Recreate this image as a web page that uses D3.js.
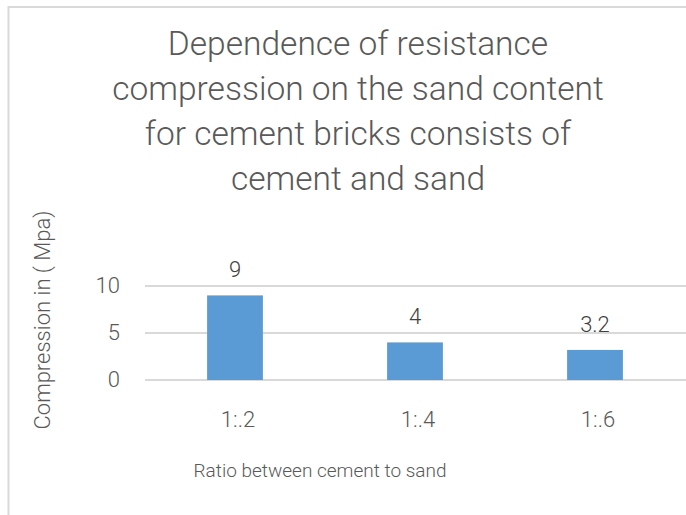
<!DOCTYPE html>
<html>
<head>
<meta charset="utf-8">
<script src="https://cdn.jsdelivr.net/npm/d3@7"></script>
<style>
  body { margin: 0; background: #fff; }
  svg text { font-family: Roboto, "DejaVu Sans Condensed", sans-serif; font-weight: 300; }
</style>
</head>
<body>
<svg id="chart"></svg>
<script>
var width = 686;
var height = 515;

// Chart data
var categories = ["1:.2", "1:.4", "1:.6"];
var values = [9, 4, 3.2];
var yTicks = [0, 5, 10];
var titleLines = [
    "Dependence of resistance",
    "compression on the sand content",
    "for cement bricks consists of",
    "cement and sand"
];
var xTitle = "Ratio between cement to sand";
var yTitle = "Compression in ( Mpa)";

var plotLeft = 145, plotRight = 685, plotTop = 286, plotBottom = 380;

var svg = d3.select("#chart")
    .attr("width", width)
    .attr("height", height);

// Chart frame (runs off the right and bottom edge)
svg.append("rect")
    .attr("x", 8.5)
    .attr("y", 7)
    .attr("width", 800)
    .attr("height", 600)
    .attr("fill", "#fff")
    .attr("stroke", "#d9d9d9")
    .attr("stroke-width", 2);

var x = d3.scaleBand()
    .domain(categories)
    .range([plotLeft, plotRight])
    .paddingInner(0.69)
    .paddingOuter(0.345);

var y = d3.scaleLinear()
    .domain([0, 10])
    .range([plotBottom, plotTop]);

// Gridlines
svg.append("g")
    .selectAll("line")
    .data(yTicks)
    .enter().append("line")
    .attr("x1", plotLeft)
    .attr("x2", width + 10)
    .attr("y1", function (d) { return y(d); })
    .attr("y2", function (d) { return y(d); })
    .attr("stroke", "#d9d9d9")
    .attr("stroke-width", 2);

// Y tick labels
svg.append("g")
    .selectAll("text")
    .data(yTicks)
    .enter().append("text")
    .attr("x", 120)
    .attr("y", function (d) { return y(d); })
    .attr("dy", "0.3em")
    .attr("text-anchor", "end")
    .attr("font-size", "22px")
    .attr("fill", "#595959")
    .text(function (d) { return d; });

// Bars
svg.append("g")
    .selectAll("rect")
    .data(values)
    .enter().append("rect")
    .attr("x", function (d, i) { return x(categories[i]); })
    .attr("y", function (d) { return y(d); })
    .attr("width", x.bandwidth())
    .attr("height", function (d) { return plotBottom - y(d); })
    .attr("fill", "#5b9bd5");

// Data labels
svg.append("g")
    .selectAll("text")
    .data(values)
    .enter().append("text")
    .attr("x", function (d, i) { return x(categories[i]) + x.bandwidth() / 2; })
    .attr("y", function (d) { return y(d) - 18; })
    .attr("text-anchor", "middle")
    .attr("font-size", "22px")
    .attr("fill", "#404040")
    .text(function (d) { return d; });

// Category labels
svg.append("g")
    .selectAll("text")
    .data(categories)
    .enter().append("text")
    .attr("x", function (d) { return x(d) + x.bandwidth() / 2 + 3; })
    .attr("y", 427)
    .attr("text-anchor", "middle")
    .attr("font-size", "22px")
    .attr("fill", "#595959")
    .text(function (d) { return d; });

// Title
svg.append("g")
    .selectAll("text")
    .data(titleLines)
    .enter().append("text")
    .attr("x", 358)
    .attr("y", function (d, i) { return 55 + i * 45; })
    .attr("text-anchor", "middle")
    .attr("font-size", "33.5px")
    .attr("fill", "#595959")
    .text(function (d) { return d; });

// Axis titles
svg.append("text")
    .attr("x", 320)
    .attr("y", 477)
    .attr("text-anchor", "middle")
    .attr("font-size", "19px")
    .attr("fill", "#595959")
    .text(xTitle);

svg.append("text")
    .attr("transform", "translate(50,320) rotate(-90)")
    .attr("text-anchor", "middle")
    .attr("font-size", "22px")
    .attr("fill", "#595959")
    .text(yTitle);
</script>
</body>
</html>
